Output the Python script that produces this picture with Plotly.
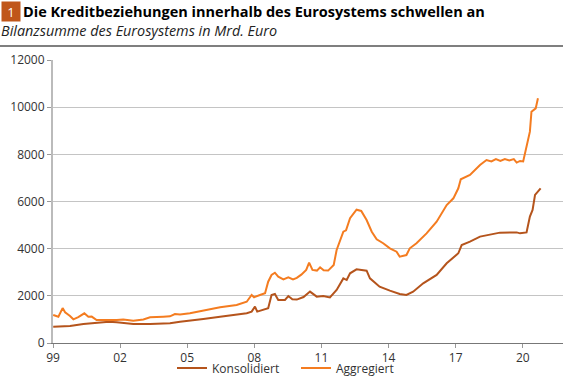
import plotly.graph_objects as go

agg_x = [1999.01, 1999.24, 1999.43, 1999.54, 1999.76, 1999.91, 2000.13, 2000.4, 2000.58, 2000.73,
         2000.95, 2001.4, 2001.85, 2002.14, 2002.59, 2003.04, 2003.34, 2003.93, 2004.23, 2004.45,
         2004.68, 2005.12, 2005.72, 2006.47, 2007.21, 2007.66, 2007.88, 2007.99, 2008.25, 2008.48,
         2008.62, 2008.77, 2008.92, 2009.07, 2009.3, 2009.52, 2009.73, 2009.9, 2010.1, 2010.32,
         2010.45, 2010.6, 2010.8, 2010.94, 2011.1, 2011.3, 2011.55, 2011.68, 2011.98, 2012.1,
         2012.28, 2012.57, 2012.78, 2013.02, 2013.25, 2013.47, 2013.76, 2014.06, 2014.36, 2014.5,
         2014.8, 2014.95, 2015.25, 2015.7, 2016.15, 2016.6, 2016.9, 2017.12, 2017.23, 2017.5,
         2017.64, 2018.09, 2018.38, 2018.6, 2018.8, 2019.0, 2019.2, 2019.4, 2019.6, 2019.73,
         2019.88, 2020.02, 2020.17, 2020.32, 2020.39, 2020.58, 2020.68]
agg_y = [1190, 1115, 1480, 1300, 1145, 1005, 1100, 1260, 1110, 1120,
         975, 960, 975, 1000, 945, 1000, 1090, 1115, 1130, 1230,
         1210, 1260, 1370, 1515, 1610, 1750, 2035, 1940, 2035, 2110,
         2600, 2885, 2980, 2810, 2700, 2780, 2700, 2760, 2900, 3100,
         3405, 3100, 3070, 3210, 3080, 3070, 3310, 3945, 4720, 4780,
         5290, 5650, 5600, 5215, 4720, 4400, 4230, 4015, 3870, 3660,
         3730, 4015, 4230, 4650, 5145, 5850, 6135, 6560, 6940, 7050,
         7125, 7550, 7760, 7700, 7800, 7720, 7800, 7740, 7800, 7650,
         7720, 7700, 8400, 8960, 9810, 9950, 10380]

kon_x = [1999.01, 1999.76, 2000.36, 2000.95, 2001.5, 2001.85, 2002.59, 2003.34, 2003.93, 2004.23,
         2004.68, 2005.12, 2005.72, 2006.47, 2007.21, 2007.66, 2007.88, 2008.03, 2008.13, 2008.4,
         2008.62, 2008.77, 2008.92, 2009.07, 2009.37, 2009.52, 2009.7, 2009.9, 2010.2, 2010.49,
         2010.79, 2011.08, 2011.38, 2011.68, 2011.98, 2012.13, 2012.28, 2012.57, 2013.02, 2013.17,
         2013.6, 2014.06, 2014.5, 2014.8, 2015.1, 2015.55, 2016.15, 2016.6, 2017.12, 2017.27,
         2017.64, 2018.09, 2018.98, 2019.73, 2019.88, 2020.17, 2020.32, 2020.44, 2020.55, 2020.8]
kon_y = [690, 720, 805, 860, 905, 880, 805, 810, 835, 835,
         905, 945, 1020, 1115, 1190, 1260, 1330, 1540, 1330, 1400,
         1470, 2035, 2080, 1825, 1825, 1990, 1850, 1840, 1950, 2180,
         1965, 1990, 1935, 2250, 2740, 2670, 2955, 3125, 3065, 2740,
         2390, 2220, 2080, 2035, 2175, 2530, 2885, 3380, 3805, 4155,
         4295, 4510, 4680, 4690, 4650, 4690, 5360, 5640, 6280, 6560]

tick_vals = [1999, 2002, 2005, 2008, 2011, 2014, 2017, 2020]
tick_text = ["99", "02", "05", "08", "11", "14", "17", "20"]

title = "Die Kreditbeziehungen innerhalb des Eurosystems schwellen an"
subtitle = "Bilanzsumme des Eurosystems in Mrd. Euro"

FONT = "Open Sans"
PW, PH = 510, 283

fig = go.Figure()
fig.add_trace(go.Scatter(x=kon_x, y=kon_y, mode="lines", name="Konsolidiert",
                         line=dict(color="#b5541c", width=2)))
fig.add_trace(go.Scatter(x=agg_x, y=agg_y, mode="lines", name="Aggregiert",
                         line=dict(color="#f47c20", width=2)))

fig.update_layout(
    template="none",
    width=563, height=387,
    margin=dict(l=53, r=0, t=60, b=44, autoexpand=False),
    paper_bgcolor="white", plot_bgcolor="white",
    font=dict(family=FONT, size=12, color="#333333"),
    showlegend=True,
    legend=dict(orientation="h", x=0.5 - 12/PW, xanchor="center", y=-25/PH, yanchor="middle",
                font=dict(size=12, color="#333333"), bgcolor="rgba(0,0,0,0)",
                itemwidth=30, tracegroupgap=0, entrywidth=79, entrywidthmode="pixels"),
    xaxis=dict(range=[1999, 2021.8], tickvals=tick_vals, ticktext=tick_text, automargin=False,
               showgrid=False, zeroline=False, showline=True, linecolor="#777777", linewidth=1,
               ticks="outside", ticklen=4, tickcolor="#999999",
               tickfont=dict(size=12, color="#333333")),
    yaxis=dict(range=[0, 12000], dtick=2000, tickformat="d", automargin=False,
               showgrid=True, gridcolor="#c4c4c4", gridwidth=1,
               zeroline=False, showline=True, linecolor="#bbbbbb", linewidth=2,
               ticks="outside", ticklen=4, tickcolor="#999999",
               tickfont=dict(size=12, color="#333333")),
    shapes=[dict(type="line", xref="paper", yref="paper", x0=-53/PW, x1=1.0,
                 y0=1 + 14/PH, y1=1 + 14/PH, line=dict(color="#555555", width=1.5))],
)

fig.add_annotation(xref="paper", yref="paper", x=-52/PW, y=1 + 49/PH, xanchor="left", yanchor="middle",
                   text="1", showarrow=False, bgcolor="#c0561a", width=16, height=17,
                   font=dict(family=FONT, size=13, color="white"))
fig.add_annotation(xref="paper", yref="paper", x=-32/PW, y=1 + 49/PH, xanchor="left", yanchor="middle",
                   text="<b>" + title + "</b>", showarrow=False,
                   font=dict(family=FONT, size=14.5, color="#000000"))
fig.add_annotation(xref="paper", yref="paper", x=-54/PW, y=1 + 29/PH, xanchor="left", yanchor="middle",
                   text="<i>" + subtitle + "</i>", showarrow=False,
                   font=dict(family=FONT, size=14.4, color="#222222"))

fig.write_html("out.html", config={"displayModeBar": False},
               post_script="document.body.style.margin='0';document.body.style.overflow='hidden';")
